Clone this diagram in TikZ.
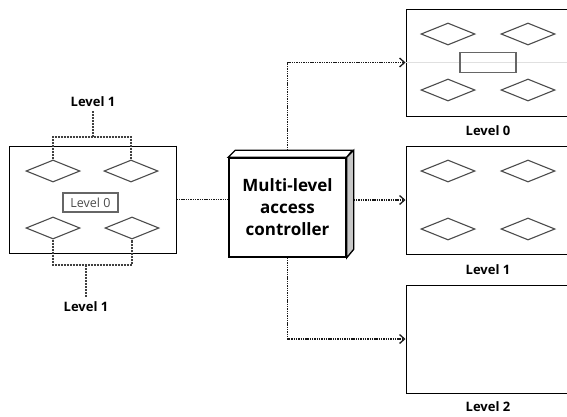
\documentclass[tikz,border=0pt]{standalone}
\usepackage{fontspec}
\setmainfont{Open Sans}
\usetikzlibrary{shapes.geometric,arrows.meta}
\begin{document}
\begin{tikzpicture}[x=1pt,y=-1pt,
  panel/.style={draw=black,line width=1pt,rectangle,inner sep=0pt,fill=white},
  dia/.style={draw=black!70,line width=1.1pt,diamond,aspect=2.45,minimum width=54pt,minimum height=22pt,inner sep=0pt},
  lbl/.style={font=\fontsize{13}{15}\selectfont\bfseries,inner sep=0pt},
  conn/.style={line width=1.5pt,dash pattern=on 1.4pt off 0.9pt,black!90},
  arr/.style={conn,-{Straight Barb[length=5pt,width=9pt,line width=1.3pt]}},
  bracket/.style={line width=1.3pt,dash pattern=on 2pt off 1pt,black!75},
  inbox/.style={draw=black!60,line width=1.1pt,rectangle,inner sep=0pt,minimum width=56pt,minimum height=20pt}
]
\useasboundingbox (0,0) rectangle (567,416);
\clip (0,0) rectangle (567,416);

% left panel
\node[panel,minimum width=167pt,minimum height=107pt] (lbox) at (92.5,199.5) {};
\draw[line width=1.8pt] (lbox.north east) -- (lbox.south east);
\node[dia] (d1) at (53,171) {};
\node[dia] (d2) at (131,171) {};
\node[dia] (d3) at (53,228) {};
\node[dia] (d4) at (132,228) {};
\node[inbox,minimum width=55pt,minimum height=19pt,font=\fontsize{12.5}{14}\selectfont,text=black!70] (l0) at (90.5,202.5) {Level 0};

% brackets
\node[lbl] (ltop) at (93,102) {Level 1};
\coordinate (tb) at (93,137);
\draw[bracket] (d1.north) |- (tb) -| (d2.north);
\draw[bracket] (tb) -- ([yshift=-3pt]ltop.south);
\node[lbl] (lbot) at (86,307) {Level 1};
\coordinate (bb) at (86,265);
\draw[bracket] (d3.south) |- (bb) -| (d4.south);
\draw[bracket] (bb) -- ([yshift=4pt]lbot.north);

% controller
\node[panel,line width=1.5pt,minimum width=117pt,minimum height=99pt,align=center,
  font=\fontsize{17}{22}\selectfont\bfseries] (ctrl) at (287.5,207.5) {Multi-level\\access\\controller};
\draw[line width=1.3pt,fill=white] (ctrl.north west) -- ++(7,-7) -- ++(117,0) -- (ctrl.north east) -- cycle;
\draw[line width=1.3pt,fill=black!22] (ctrl.north east) -- ++(7,-7) -- ++(0,99) -- (ctrl.south east) -- cycle;

% right panels
\node[panel,minimum width=170pt,minimum height=107pt] (tbox) at (491,62.5) {};
\draw[black!12,line width=0.6pt] (tbox.west) -- (tbox.east);
\node[dia] (t1) at (448,34) {};
\node[dia] (t2) at (528,34) {};
\node[dia] (t3) at (448,90) {};
\node[dia] (t4) at (528,90) {};
\node[inbox] (trect) at (488,62.5) {};
\node[lbl] (tl) at (488,131) {Level 0};

\node[panel,minimum width=170pt,minimum height=108pt] (mbox) at (491,200) {};
\node[dia] (m1) at (448,171) {};
\node[dia] (m2) at (528,171) {};
\node[dia] (m3) at (448,229) {};
\node[dia] (m4) at (528,229) {};
\node[lbl] (ml) at (488,270) {Level 1};

\node[panel,minimum width=170pt,minimum height=108pt] (bbox) at (491,339) {};
\node[lbl] (bl) at (488,407) {Level 2};

% connectors
\draw[conn] (lbox.east) -- (lbox.east -| ctrl.west);
\draw[arr] ([xshift=7pt]ctrl.east |- mbox.west) -- (mbox.west);
\draw[arr] ([yshift=7pt]ctrl.north) |- (tbox.west);
\draw[arr] (ctrl.south) |- (bbox.west);
\end{tikzpicture}
\end{document}
